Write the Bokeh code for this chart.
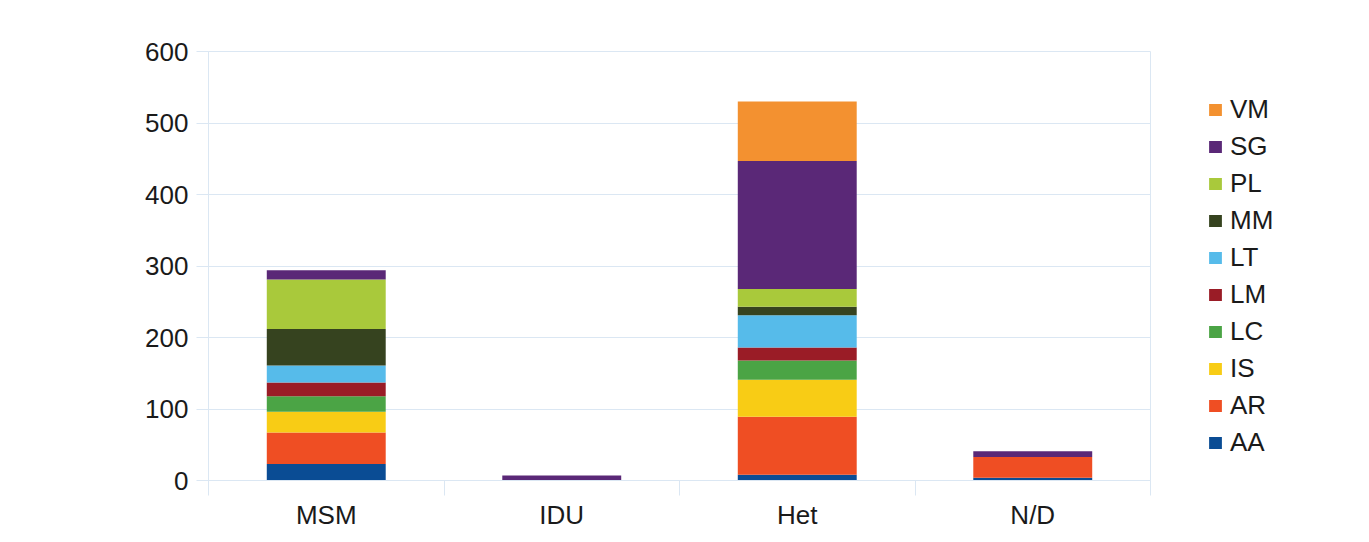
from bokeh.plotting import figure
from bokeh.layouts import row
from bokeh.models import ColumnDataSource, Legend, LegendItem, FixedTicker, Range1d
from bokeh.embed import file_html
from bokeh.resources import INLINE

# Cases by transmission group, stacked by region code
categories = ["MSM", "IDU", "Het", "N/D"]
series = ["AA", "AR", "IS", "LC", "LM", "LT", "MM", "PL", "SG", "VM"]

AA = [23, 0, 8, 4]
AR = [44, 0, 81, 29]
IS = [29, 0, 52, 0]
LC = [22, 0, 27, 0]
LM = [19, 0, 18, 0]
LT = [24, 0, 45, 0]
MM = [51, 0, 12, 0]
PL = [69, 0, 25, 0]
SG = [13, 7, 179, 8]
VM = [0, 0, 83, 0]

y_ticks = [0, 100, 200, 300, 400, 500, 600]

colors = ["#0a4c94", "#ef4e23", "#f8cc15", "#4ba445", "#9a1c26",
          "#56bbea", "#36431f", "#a9c93b", "#5a2877", "#f39130"]

values = dict(AA=AA, AR=AR, IS=IS, LC=LC, LM=LM, LT=LT, MM=MM, PL=PL, SG=SG, VM=VM)
xpos = [i + 0.5 for i in range(len(categories))]
data = dict(x=xpos, **values)
source = ColumnDataSource(data)

FONT = "Liberation Sans"
FSIZE = "26px"
LIGHT = "#dbe7f3"
TEXT = "#1a1a1a"

p = figure(width=1160, height=542, x_range=Range1d(0, len(categories)),
           y_range=Range1d(0, 600), output_backend="svg", toolbar_location=None,
           min_border_left=208, min_border_right=10, min_border_top=51,
           min_border_bottom=62)
p.background_fill_color = "white"
p.border_fill_color = "white"
p.outline_line_color = LIGHT
p.outline_line_width = 1

p.vbar_stack(series, x="x", width=0.505, color=colors, source=source, line_color=None)

# Axes
p.yaxis.ticker = FixedTicker(ticks=y_ticks)
p.yaxis.axis_line_color = LIGHT
p.yaxis.major_tick_line_color = LIGHT
p.yaxis.major_tick_out = 12
p.yaxis.major_tick_in = 0
p.yaxis.minor_tick_line_color = None
p.yaxis.major_label_standoff = 8
p.yaxis.major_label_text_font = FONT
p.yaxis.major_label_text_font_size = FSIZE
p.yaxis.major_label_text_color = TEXT

p.xaxis.ticker = FixedTicker(ticks=xpos, minor_ticks=list(range(len(categories) + 1)))
p.xaxis.major_label_overrides = {x: c for x, c in zip(xpos, categories)}
p.xaxis.axis_line_color = LIGHT
p.xaxis.major_tick_line_color = None
p.xaxis.major_tick_out = 0
p.xaxis.major_tick_in = 0
p.xaxis.minor_tick_line_color = LIGHT
p.xaxis.minor_tick_out = 15
p.xaxis.minor_tick_in = 0
p.xaxis.major_label_standoff = 4
p.xaxis.major_label_text_font = FONT
p.xaxis.major_label_text_font_size = FSIZE
p.xaxis.major_label_text_color = TEXT

p.xgrid.grid_line_color = None
p.ygrid.grid_line_color = LIGHT
p.ygrid.ticker = FixedTicker(ticks=y_ticks)

# Legend panel to the right of the chart; its stack sits outside the panel's view
lg = figure(width=209, height=542, x_range=Range1d(-20, -19), y_range=Range1d(0, 600),
            output_backend="svg", toolbar_location=None,
            min_border_left=0, min_border_right=0, min_border_top=51,
            min_border_bottom=62)
lg.axis.visible = False
lg.grid.visible = False
lg.outline_line_color = None
lg.background_fill_color = "white"
lg.border_fill_color = "white"

swatches = lg.vbar_stack(series, x="x", width=0.505, color=colors, source=source,
                         line_color=None)
items = [LegendItem(label=s, renderers=[r]) for s, r in zip(series, swatches)][::-1]
legend = Legend(items=items, location=(47, 19), orientation="vertical",
                label_text_font=FONT, label_text_font_size=FSIZE,
                label_text_color=TEXT, glyph_width=16, glyph_height=15,
                label_standoff=7, label_height=37, spacing=0, padding=0,
                margin=0, border_line_color=None, background_fill_alpha=0)
lg.add_layout(legend)

layout = row(p, lg, spacing=0)
open("out.html", "w").write(file_html(layout, INLINE))
